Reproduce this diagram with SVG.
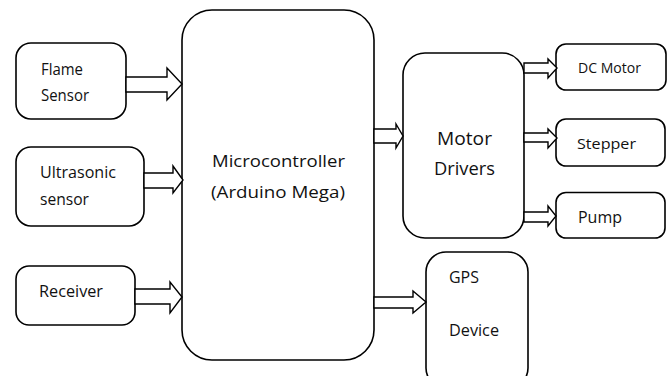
<svg xmlns="http://www.w3.org/2000/svg" width="670" height="376" viewBox="0 0 670 376">
<style>
.box{fill:#fff;stroke:#000;stroke-width:1.6}
.arr{fill:#fff;stroke:#000;stroke-width:1.4;stroke-linejoin:miter}
text{font-family:"Open Sans","Liberation Sans",sans-serif;fill:#111}
</style>
<rect width="670" height="376" fill="#fff"/>
<g id="flame"><rect class="box" x="16" y="43" width="110" height="76" rx="15"/>
<text x="41" y="74.5" font-size="16" textLength="42" lengthAdjust="spacingAndGlyphs">Flame</text>
<text x="41" y="101" font-size="16" textLength="48" lengthAdjust="spacingAndGlyphs">Sensor</text></g>
<g id="ultrasonic"><rect class="box" x="16" y="147" width="128" height="79" rx="15"/>
<text x="40" y="178" font-size="16" textLength="76" lengthAdjust="spacingAndGlyphs">Ultrasonic</text>
<text x="40" y="205" font-size="16" textLength="49" lengthAdjust="spacingAndGlyphs">sensor</text></g>
<g id="receiver"><rect class="box" x="16" y="266" width="119" height="59" rx="13"/>
<text x="39" y="297" font-size="16" textLength="64" lengthAdjust="spacingAndGlyphs">Receiver</text></g>
<g id="mcu"><rect class="box" x="182" y="10" width="192" height="350" rx="30"/>
<text x="212" y="166.5" font-size="16.5" textLength="133" lengthAdjust="spacingAndGlyphs">Microcontroller</text>
<text x="211" y="198" font-size="16.5" textLength="134" lengthAdjust="spacingAndGlyphs">(Arduino Mega)</text></g>
<g id="drivers"><rect class="box" x="403" y="53" width="121" height="185" rx="22"/>
<text x="437" y="145" font-size="18.5" textLength="55" lengthAdjust="spacingAndGlyphs">Motor</text>
<text x="434" y="175" font-size="18.5" textLength="61" lengthAdjust="spacingAndGlyphs">Drivers</text></g>
<g id="dcmotor"><rect class="box" x="556" y="44" width="110" height="46" rx="10"/>
<text x="578" y="72.5" font-size="14" textLength="63" lengthAdjust="spacingAndGlyphs">DC Motor</text></g>
<g id="stepper"><rect class="box" x="556" y="119" width="109" height="47" rx="10"/>
<text x="577" y="149" font-size="15" textLength="59" lengthAdjust="spacingAndGlyphs">Stepper</text></g>
<g id="pump"><rect class="box" x="556" y="192.5" width="109" height="45.5" rx="10"/>
<text x="578" y="223" font-size="15.5" textLength="44" lengthAdjust="spacingAndGlyphs">Pump</text></g>
<g id="gps"><rect class="box" x="426" y="252" width="102" height="136" rx="20"/>
<text x="449" y="283" font-size="15.5" textLength="30" lengthAdjust="spacingAndGlyphs">GPS</text>
<text x="449" y="336" font-size="15.5" textLength="50" lengthAdjust="spacingAndGlyphs">Device</text></g>
<g id="connectors">
<polygon class="arr" points="126,77 167,77 167,68 182,84 167,100 167,92 126,92"/>
<polygon class="arr" points="144,173 173,173 173,166 183,180 173,193 173,188 144,188"/>
<polygon class="arr" points="135,289 170,289 170,282 182,297 170,313 170,304 135,304"/>
<polygon class="arr" points="374,129 396,129 396,124 403,136 396,148 396,143 374,143"/>
<polygon class="arr" points="374,297 413,297 413,291 426,302 413,313 413,308 374,308"/>
<polygon class="arr" points="524,63 548,63 548,59 557,68 548,78 548,73 524,73"/>
<polygon class="arr" points="524,133 548,133 548,129 557,138 548,148 548,142 524,142"/>
<polygon class="arr" points="524,212 548,212 548,206 556,216 548,226 548,222 524,222"/>
</g>
</svg>
